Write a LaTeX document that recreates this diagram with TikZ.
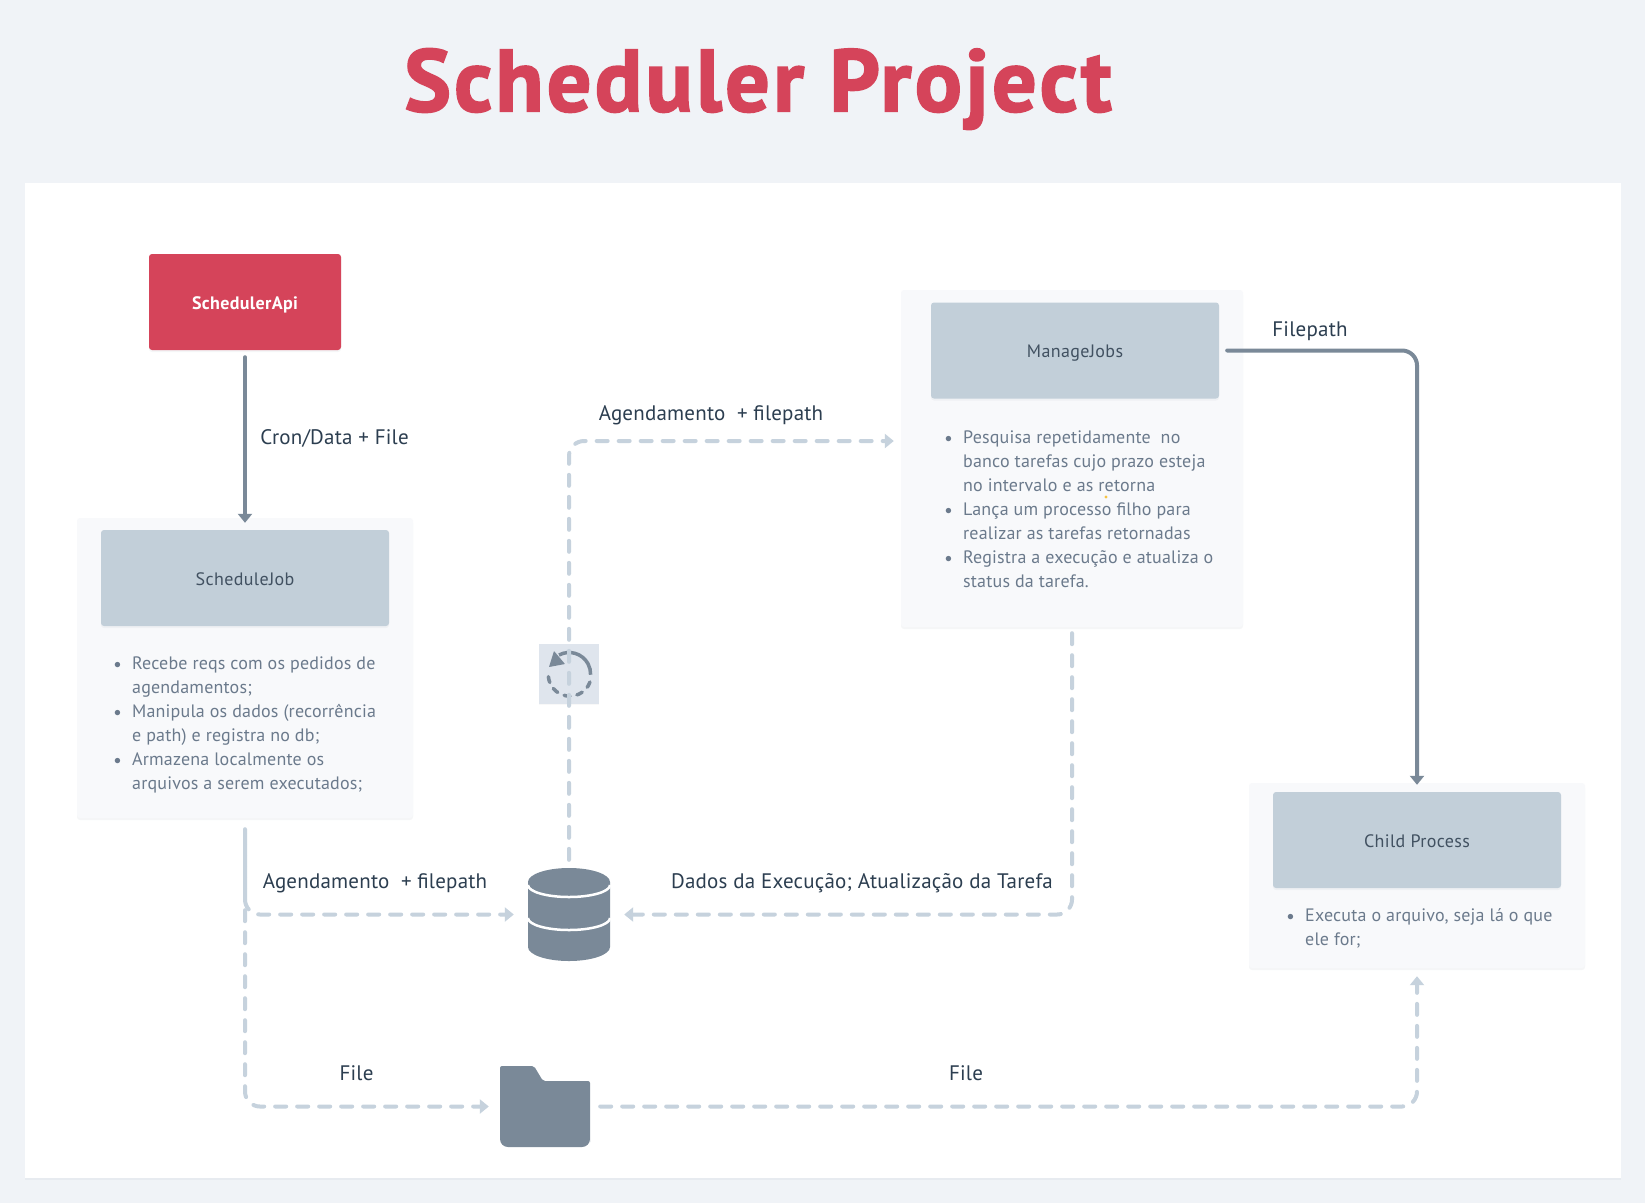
\documentclass[tikz,border=0pt]{standalone}
\usepackage{fontspec}
\setmainfont{PT Sans}
\newfontfamily\cardfont[LetterSpace=1]{PT Sans}
\newfontfamily\headfont[LetterSpace=2]{PT Sans}
\newfontfamily\titlefont[LetterSpace=3.7,FakeBold=2]{PT Sans}
\usetikzlibrary{positioning,arrows.meta,shadows}
\definecolor{pagecolor}{HTML}{F0F3F7}
\definecolor{redcolor}{HTML}{D5445A}
\definecolor{cardcolor}{HTML}{F8F9FB}
\definecolor{headcolor}{HTML}{C2CFD9}
\definecolor{darkline}{HTML}{7A8998}
\definecolor{lightline}{HTML}{C6D2DD}
\definecolor{labelcolor}{HTML}{2C3E50}
\definecolor{listcolor}{HTML}{6B7A8C}
\definecolor{iconcolor}{HTML}{DFE5ED}
\definecolor{dotcolor}{HTML}{F6C344}
\tikzset{
    softshadow/.style={drop shadow={shadow xshift=0pt,shadow yshift=-2pt,opacity=.07,fill=darkline}},
    card/.style={fill=cardcolor, rounded corners=3pt, inner sep=0pt, softshadow},
    headbox/.style={fill=headcolor, rounded corners=3pt, minimum width=288pt, minimum height=96pt, inner sep=0pt, text height=14pt, text depth=0pt, text=labelcolor!90, font=\headfont\fontsize{18}{20}\selectfont, softshadow},
    listtext/.style={anchor=base west, inner sep=0pt, text=listcolor, font=\cardfont\fontsize{18}{24.1}\selectfont},
    linklabel/.style={inner sep=0pt, text height=15pt, text depth=0pt, text=labelcolor, font=\cardfont\fontsize{21}{24}\selectfont},
    solidlink/.style={draw=darkline, line width=4pt, line cap=round, rounded corners=15pt, -{Triangle[length=9pt,width=14pt]}},
    dashlink/.style={draw=lightline, line width=4pt, line cap=round, rounded corners=15pt, dash pattern=on 11pt off 11pt, -{Triangle[length=9pt,width=14pt]}},
}
\newcommand{\listbullet}{\raisebox{1pt}{\scalebox{.8}{$\bullet$}}}
\newenvironment{cardlist}{\begin{tabular}[t]{@{}p{18pt}@{}l@{}}}{\end{tabular}}
\begin{document}
\begin{tikzpicture}[x=1pt, y=-1pt]
    \useasboundingbox (0,0) rectangle (1645,1203);
    \fill[pagecolor] (0,0) rectangle (1645,1203);

    % Panel and title
    \node[fill=white, minimum width=1596pt, minimum height=995pt, inner sep=0pt, softshadow] (panel) at (823,680.5) {};
    \node[text=redcolor, inner sep=0pt, font=\titlefont\fontsize{88}{100}\selectfont\bfseries] (title) at (758,89) {Scheduler Project};

    % SchedulerApi
    \node[fill=redcolor, rounded corners=3pt, minimum width=192pt, minimum height=96pt, inner sep=0pt, text height=14pt, text depth=0pt, text=white, font=\headfont\fontsize{18}{20}\selectfont\bfseries, softshadow] (schedulerapi) at (245,302) {SchedulerApi};

    % ScheduleJob
    \node[card, minimum width=336pt, minimum height=300pt] (schedulejobcard) at (245,668) {};
    \node[headbox] (schedulejob) at (245,578) {ScheduleJob};
    \node[listtext] (schedulejoblist) at (114,669) {
        \begin{cardlist}
            \listbullet & Recebe reqs com os pedidos de\\
             & agendamentos;\\
            \listbullet & Manipula os dados (recorrência\\
             & e path) e registra no db;\\
            \listbullet & Armazena localmente os\\
             & arquivos a serem executados;
        \end{cardlist}
    };

    % ManageJobs
    \node[card, minimum width=342pt, minimum height=337pt] (managejobscard) at (1072,458.5) {};
    \node[headbox] (managejobs) at (1075,350.5) {ManageJobs};
    \node[listtext] (managejobslist) at (945,443) {
        \begin{cardlist}
            \listbullet & Pesquisa repetidamente\ \ no\\
             & banco tarefas cujo prazo esteja\\
             & no intervalo e as retorna\\
            \listbullet & Lança um processo filho para\\
             & realizar as tarefas retornadas\\
            \listbullet & Registra a execução e atualiza o\\
             & status da tarefa.
        \end{cardlist}
    };
    \fill[dotcolor] (1106,497) circle (1.7pt);

    % Child Process
    \node[card, minimum width=336pt, minimum height=185pt] (childprocesscard) at (1417,875.5) {};
    \node[headbox] (childprocess) at (1417,840) {Child Process};
    \node[listtext] (childprocesslist) at (1287,921) {
        \begin{cardlist}
            \listbullet & Executa o arquivo, seja lá o que\\
             & ele for;
        \end{cardlist}
    };

    % Refresh icon
    \node[fill=iconcolor, minimum size=60pt, inner sep=0pt, drop shadow={shadow xshift=0pt,shadow yshift=-1pt,opacity=.05}] (refreshicon) at (569,674) {};
    \draw[darkline, line width=3.5pt] (559,655) arc[start angle=118, end angle=-2, radius=21.5pt];
    \draw[darkline, line width=3.5pt, line cap=round, dash pattern=on 6pt off 7pt] (590,682) arc[start angle=-20, end angle=-185, radius=21.5pt];
    \fill[darkline, rounded corners=.5pt] (549,667) -- (554,651) -- (565,664) -- cycle;

    % Database icon
    \node[minimum width=82pt, minimum height=93pt, inner sep=0pt] (database) at (569,914.5) {};
    \fill[darkline] (528,882) arc[start angle=180, end angle=0, x radius=41pt, y radius=14pt]
        -- (610,947) arc[start angle=0, end angle=-180, x radius=41pt, y radius=14pt] -- cycle;
    \draw[white, line width=2.5pt] (528,885) arc[start angle=180, end angle=360, x radius=41pt, y radius=12pt];
    \draw[white, line width=2.5pt] (528,918) arc[start angle=180, end angle=360, x radius=41pt, y radius=12pt];

    % Folder icon
    \node[minimum width=90pt, minimum height=81pt, inner sep=0pt] (folder) at (545,1106.5) {};
    \fill[darkline, rounded corners=2pt] (500,1140) -- (500,1066) -- (534,1066) -- (543,1081) -- (590,1081) -- (590,1140)
        [rounded corners=8pt] -- (590,1147) -- (500,1147) -- (500,1130) -- cycle;

    % Solid arrows
    \draw[solidlink] ([yshift=-7pt]schedulerapi.south) -- ([yshift=-5pt]schedulejobcard.north);
    \draw[solidlink] ([xshift=8pt]managejobs.east) -| ([yshift=-2pt]childprocesscard.north);

    % Dashed arrows
    \draw[dashlink, dash phase=18pt] ([yshift=-11pt]schedulejobcard.south) |- ([xshift=-14pt]database.west);
    \draw[dashlink, dash phase=7pt] ([yshift=-11pt]schedulejobcard.south) |- ([xshift=-11pt]folder.west);
    \draw[dashlink] ([yshift=8pt]database.north) |- ([xshift=-7pt,yshift=17.5pt]managejobscard.west);
    \draw[dashlink] ([yshift=-6pt]managejobscard.south) |- ([xshift=14pt]database.east);
    \draw[dashlink] ([xshift=10pt]folder.east) -| ([yshift=-8pt]childprocesscard.south);

    % Labels
    \node[linklabel] (cronlabel) at (334.5,437) {Cron/Data + File};
    \node[linklabel] (filepathlabel) at (1310,329) {Filepath};
    \node[linklabel] (agendalabel) at (711,413) {Agendamento\ \ + filepath};
    \node[linklabel] (agendadblabel) at (375,881) {Agendamento\ \ + filepath};
    \node[linklabel] (dadoslabel) at (862,881) {Dados da Execução; Atualização da Tarefa};
    \node[linklabel] (filelabel) at (356.5,1073) {File};
    \node[linklabel] (filechildlabel) at (966,1073) {File};
\end{tikzpicture}
\end{document}
